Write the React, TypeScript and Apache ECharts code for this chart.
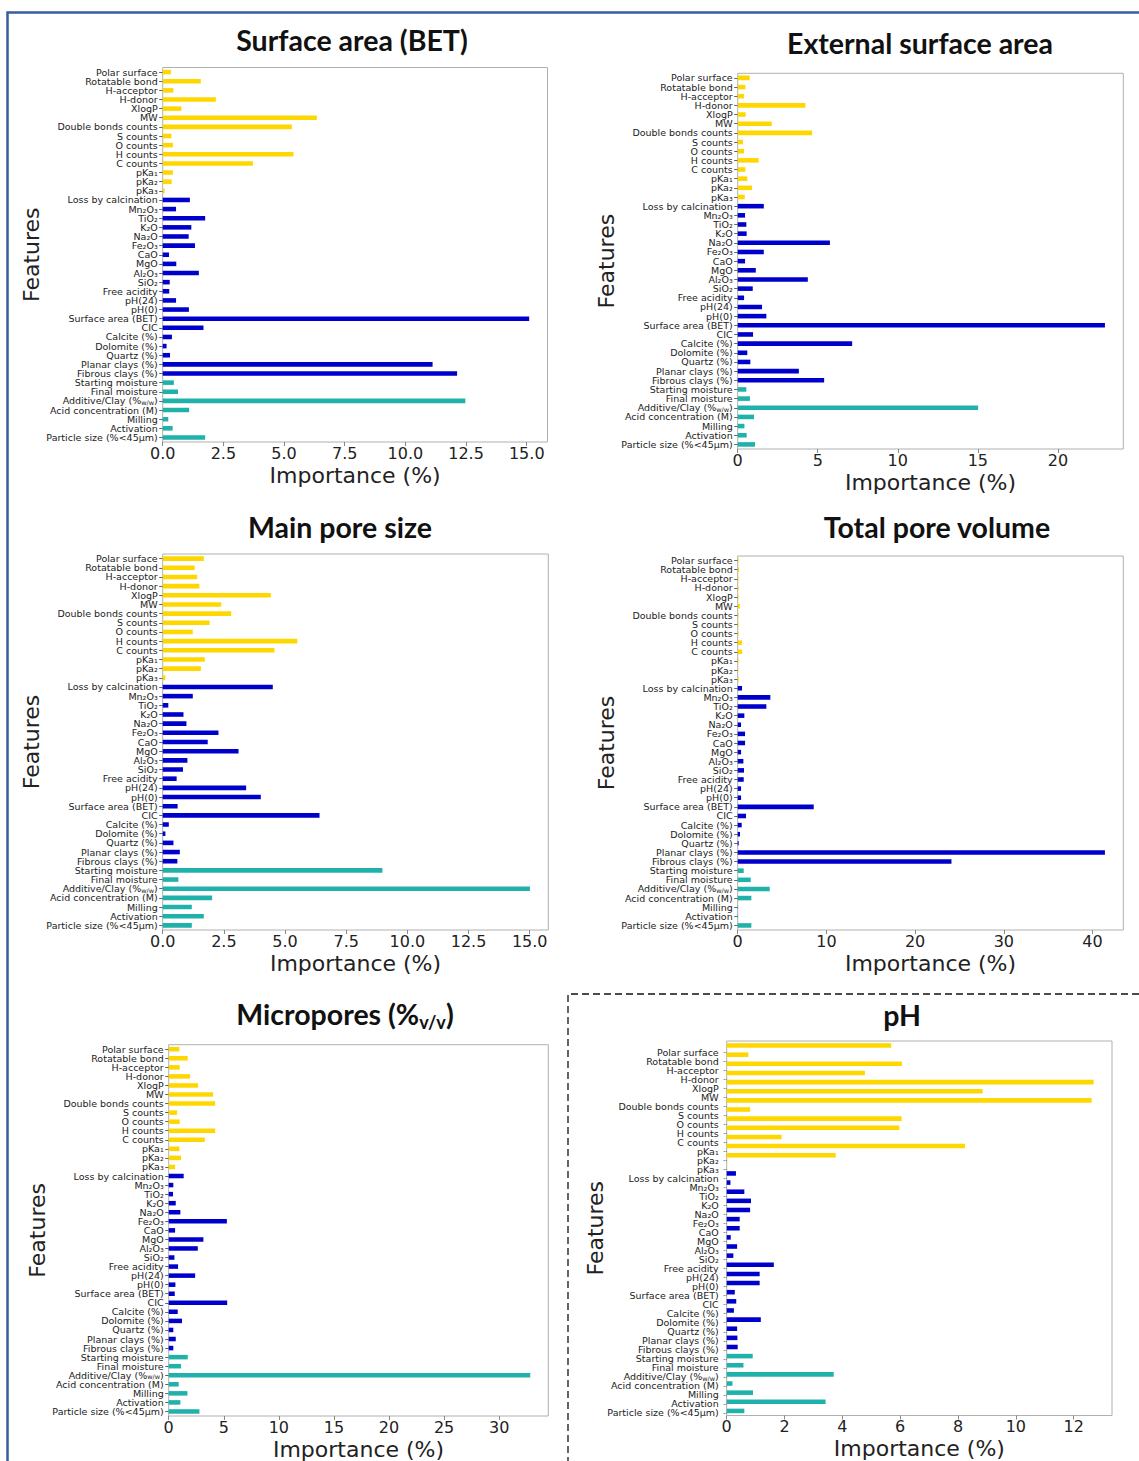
import React, { useEffect, useRef } from "react";
import * as echarts from "echarts";

// ---------- data ----------
const features = [
  "Polar surface", "Rotatable bond", "H-acceptor", "H-donor", "XlogP", "MW",
  "Double bonds counts", "S counts", "O counts", "H counts", "C counts",
  "pKa₁", "pKa₂", "pKa₃",
  "Loss by calcination", "Mn₂O₃", "TiO₂", "K₂O", "Na₂O", "Fe₂O₃", "CaO", "MgO",
  "Al₂O₃", "SiO₂", "Free acidity", "pH(24)", "pH(0)", "Surface area (BET)", "CIC",
  "Calcite (%)", "Dolomite (%)", "Quartz (%)", "Planar clays (%)", "Fibrous clays (%)",
  "Starting moisture", "Final moisture", "Additive/Clay (%w/w)", "Acid concentration (M)",
  "Milling", "Activation", "Particle size (%<45μm)",
];
const ADDITIVE = "Additive/Clay (%w/w)";

// number of consecutive features in each group (molecule, clay, process)
const groupSizes = [14, 20, 7];
const groupColors = ["#FFD700", "#0000CD", "#20B2AA"];

const surfaceAreaBET = [
  0.34, 1.57, 0.44, 2.19, 0.77, 6.35, 5.32, 0.36, 0.42, 5.39, 3.72, 0.42, 0.37, 0.08,
  1.12, 0.55, 1.75, 1.18, 1.07, 1.33, 0.26, 0.56, 1.49, 0.29, 0.27, 0.55, 1.08, 15.1, 1.68,
  0.38, 0.16, 0.30, 11.12, 12.13,
  0.46, 0.63, 12.47, 1.09, 0.23, 0.41, 1.75,
];
const externalSurfaceArea = [
  0.75, 0.48, 0.40, 4.23, 0.50, 2.13, 4.65, 0.33, 0.40, 1.31, 0.48, 0.60, 0.90, 0.44,
  1.63, 0.46, 0.54, 0.56, 5.76, 1.63, 0.46, 1.13, 4.38, 0.94, 0.40, 1.52, 1.79, 22.94, 0.96,
  7.15, 0.60, 0.79, 3.82, 5.40,
  0.54, 0.77, 15.02, 1.02, 0.42, 0.56, 1.08,
];
const mainPoreSize = [
  1.68, 1.31, 1.41, 1.50, 4.42, 2.39, 2.80, 1.92, 1.23, 5.50, 4.57, 1.72, 1.56, 0.11,
  4.50, 1.23, 0.23, 0.85, 0.97, 2.28, 1.84, 3.10, 1.01, 0.83, 0.57, 3.41, 4.01, 0.61, 6.41,
  0.25, 0.11, 0.44, 0.70, 0.60,
  8.98, 0.64, 15.01, 2.02, 1.19, 1.68, 1.19,
];
const totalPoreVolume = [
  0.1, 0.15, 0.1, 0.1, 0.1, 0.25, 0.1, 0.1, 0.1, 0.5, 0.5, 0.1, 0.05, 0.1,
  0.49, 3.68, 3.23, 0.75, 0.38, 0.83, 0.83, 0.38, 0.64, 0.71, 0.68, 0.38, 0.38, 8.57, 0.94,
  0.45, 0.26, 0.11, 41.4, 24.1,
  0.68, 1.47, 3.61, 1.54, 0.04, 0.04, 1.54,
];
const micropores = [
  0.97, 1.73, 1.0, 1.94, 2.67, 4.03, 4.22, 0.76, 1.0, 4.22, 3.28, 0.97, 1.12, 0.58,
  1.36, 0.42, 0.39, 0.64, 1.06, 5.28, 0.58, 3.15, 2.64, 0.52, 0.85, 2.40, 0.61, 0.55, 5.31,
  0.82, 1.21, 0.42, 0.64, 0.42,
  1.73, 1.12, 32.82, 0.91, 1.70, 1.06, 2.79,
];
const pH = [
  5.69, 0.75, 6.06, 4.78, 12.69, 8.85, 12.62, 0.81, 6.05, 5.97, 1.90, 8.24, 3.77, 0.01,
  0.32, 0.13, 0.61, 0.84, 0.81, 0.45, 0.45, 0.14, 0.36, 0.23, 1.63, 1.14, 1.14, 0.28, 0.33,
  0.25, 1.18, 0.36, 0.37, 0.38,
  0.90, 0.58, 3.70, 0.20, 0.91, 3.42, 0.61,
];

const xAxisName = "Importance (%)";
const yAxisName = "Features";

// ---------- layout ----------
type Panel = {
  title: string;
  data: number[];
  left: number; top: number; right: number; bottom: number;
  interval: number; decimals: number;
  tx: number; ty: number;
  nameGap: number;
  shiftedLabels?: { top: number; bottom: number };
};

const panels: Panel[] = [
  { title: "Surface area (BET)", data: surfaceAreaBET, left: 162.7, top: 67.5, right: 547.5, bottom: 442, interval: 2.5, decimals: 1, tx: 352, ty: 40, nameGap: 117 },
  { title: "External surface area", data: externalSurfaceArea, left: 737.7, top: 73.3, right: 1123.3, bottom: 449, interval: 5, decimals: 0, tx: 920, ty: 43, nameGap: 119 },
  { title: "Main pore size", data: mainPoreSize, left: 162.7, top: 554, right: 548.3, bottom: 930, interval: 2.5, decimals: 1, tx: 340, ty: 527, nameGap: 117 },
  { title: "Total pore volume", data: totalPoreVolume, left: 737.7, top: 556, right: 1123.3, bottom: 930, interval: 10, decimals: 0, tx: 937, ty: 527, nameGap: 119 },
  { title: "Micropores", data: micropores, left: 168.7, top: 1044.7, right: 548.3, bottom: 1416, interval: 5, decimals: 0, tx: 345, ty: 1014, nameGap: 117 },
  { title: "pH", data: pH, left: 726.7, top: 1041, right: 1112, bottom: 1415.5, interval: 2, decimals: 0, tx: 902, ty: 1015, nameGap: 120, shiftedLabels: { top: 1047.5, bottom: 1417.5 } },
];

const FONT = "DejaVu Sans";
const TEXT = "#222";
const FRAME = "#b0b0b0";
const TITLE_SIZE = 28.5;

function colorOf(i: number): string {
  let acc = 0;
  for (let g = 0; g < groupSizes.length; g++) {
    acc += groupSizes[g];
    if (i < acc) return groupColors[g];
  }
  return groupColors[groupColors.length - 1];
}

const catLabel = {
  interval: 0,
  fontSize: 9.5,
  fontFamily: FONT,
  color: TEXT,
  margin: 5,
  formatter: (v: string) => (v === ADDITIVE ? "{n|Additive/Clay (%}{s|w/w}{n|)}" : v),
  rich: {
    n: { fontSize: 9.5, fontFamily: FONT, color: TEXT, lineHeight: 11 },
    s: { fontSize: 6.5, fontFamily: FONT, color: TEXT, lineHeight: 11, verticalAlign: "bottom" },
  },
};

function buildOption() {
  const grid: any[] = [];
  const xAxis: any[] = [];
  const yAxis: any[] = [];
  const series: any[] = [];

  panels.forEach((p, i) => {
    grid.push({
      left: p.left, top: p.top, width: p.right - p.left, height: p.bottom - p.top,
      show: true, borderColor: FRAME, borderWidth: 1, backgroundColor: "transparent",
    });
    xAxis.push({
      type: "value", gridIndex: i, min: 0, max: Math.max(...p.data) * 1.05, interval: p.interval,
      axisLine: { show: false }, splitLine: { show: false },
      axisTick: { show: true, length: 4, lineStyle: { color: "#888" } },
      axisLabel: {
        fontSize: 16, fontFamily: FONT, color: TEXT, margin: 3, showMaxLabel: false,
        formatter: (v: number) => v.toFixed(p.decimals),
      },
      name: xAxisName, nameLocation: "middle", nameGap: 22,
      nameTextStyle: { fontSize: 22, fontFamily: FONT, color: TEXT },
    });
    const shifted = !!p.shiftedLabels;
    yAxis.push({
      type: "category", gridIndex: i, data: features, inverse: true,
      axisLine: { show: false },
      axisTick: { show: !shifted, alignWithLabel: true, interval: 0, length: 3.5, lineStyle: { color: "#666" } },
      axisLabel: shifted ? { show: false } : catLabel,
      name: yAxisName, nameLocation: "middle", nameGap: p.nameGap,
      nameTextStyle: { fontSize: 22, fontFamily: FONT, color: TEXT },
    });
    series.push({
      type: "bar", xAxisIndex: i, yAxisIndex: i, barWidth: "50%", silent: true,
      data: p.data.map((v, j) => ({ value: v, itemStyle: { color: colorOf(j) } })),
    });
  });

  // pH panel: tick labels slightly offset from the bars, as in the reference
  panels.forEach((p) => {
    if (!p.shiftedLabels) return;
    const gi = grid.length;
    grid.push({
      left: p.left, top: p.shiftedLabels.top, width: p.right - p.left,
      height: p.shiftedLabels.bottom - p.shiftedLabels.top, show: false,
    });
    xAxis.push({ type: "value", gridIndex: gi, show: false });
    yAxis.push({
      type: "category", gridIndex: gi, data: features, inverse: true,
      axisLine: { show: false },
      axisTick: { show: true, alignWithLabel: true, interval: 0, length: 3, lineStyle: { color: "#666", type: "dotted" } },
      axisLabel: { ...catLabel, margin: 8 },
    });
  });

  const titleStyle = (text: string, x: number, y: number) => ({
    type: "text", x, y, silent: true,
    style: {
      text, fontSize: TITLE_SIZE, fontWeight: "bold", fontFamily: "Lato", fill: "#111",
      align: "center", verticalAlign: "middle", textAlign: "center", textVerticalAlign: "middle",
    },
  });

  const graphic: any[] = [
    {
      type: "polyline", silent: true,
      shape: { points: [[1139, 12.5], [7.5, 12.5], [7.5, 1461]] },
      style: { stroke: "#3A5BA0", lineWidth: 2.5, fill: "none" },
    },
    {
      type: "polyline", silent: true,
      shape: { points: [[1139, 994], [568, 994], [568, 1461]] },
      style: { stroke: "#111", lineWidth: 1.3, fill: "none", lineDash: [7, 4] },
    },
  ];
  panels.forEach((p) => {
    if (p.title === "Micropores") {
      graphic.push({
        type: "text", x: p.tx, y: p.ty, silent: true,
        style: {
          text: "{a|Micropores (%}{s|v/v}{a|)}",
          align: "center", verticalAlign: "middle", textAlign: "center", textVerticalAlign: "middle",
          rich: {
            a: { fontSize: TITLE_SIZE, fontWeight: "bold", fontFamily: "Lato", fill: "#111", lineHeight: 34 },
            s: { fontSize: 18, fontWeight: "bold", fontFamily: "Lato", fill: "#111", lineHeight: 34, verticalAlign: "bottom" },
          },
        },
      });
    } else {
      graphic.push(titleStyle(p.title, p.tx, p.ty));
    }
  });

  return {
    animation: false,
    backgroundColor: "#ffffff",
    grid, xAxis, yAxis, series, graphic,
  };
}

export default function App() {
  const ref = useRef<HTMLDivElement>(null);
  useEffect(() => {
    if (!ref.current) return;
    const chart = echarts.init(ref.current, null, { renderer: "svg" });
    chart.setOption(buildOption() as any);
    return () => chart.dispose();
  }, []);
  return (
    <div
      ref={ref}
      style={{ position: "absolute", left: 0, top: 0, width: 1139, height: 1461, background: "#fff" }}
    />
  );
}
